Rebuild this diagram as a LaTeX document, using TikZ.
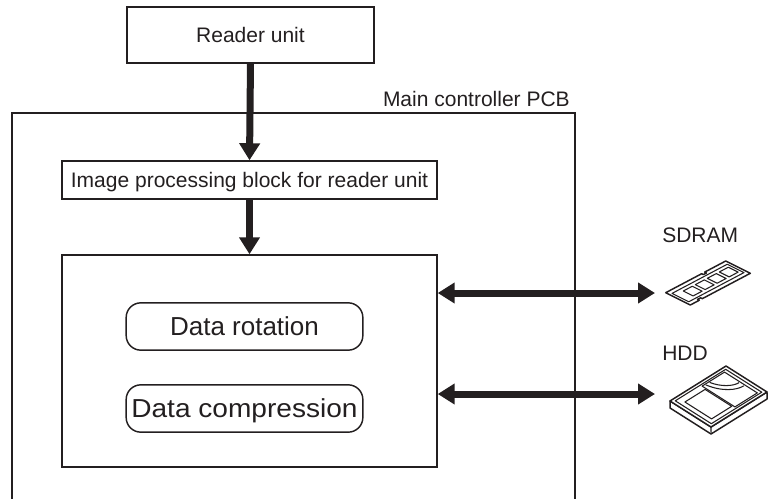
\documentclass[tikz,border=0pt]{standalone}
\usepackage{fontspec}
\setmainfont{Liberation Sans}
\usetikzlibrary{arrows.meta}

\definecolor{ink}{RGB}{35,31,32}

\begin{document}
\begin{tikzpicture}[x=0.75pt,y=0.75pt,yscale=-1,xscale=1,
    box/.style={draw=ink, line width=1.1pt, inner sep=0pt, text=ink},
    small/.style={font=\fontsize{15.75pt}{18pt}\selectfont, text height=11.3pt, text depth=0pt},
    big/.style={font=\fontsize{19.5pt}{22pt}\selectfont, text height=14pt, text depth=0pt},
    feed/.style={draw=ink, line width=5.25pt, -{Triangle[length=12.75pt,width=15pt]}},
    link/.style={draw=ink, line width=5.25pt, {Triangle[length=12.75pt,width=15pt]}-{Triangle[length=12.75pt,width=15pt]}},
    icon/.style={draw=ink, line width=0.8pt, line join=round, fill=white}]
    \useasboundingbox (0,0) rectangle (770,499);
    \clip (0,0) rectangle (770,499);

    %Shape: Rectangle (controller board, open at the bottom)
    \draw [draw=ink, line width=1.1pt] (12,505) -- (12,113) -- (575,113) -- (575,505) ;

    % Text Node
    \draw (250.5,35) node (reader) [box, small, minimum width=185.25pt, minimum height=42pt] {Reader unit};
    % Text Node
    \draw (570,107) node (board) [anchor=base east, inner sep=0pt, text=ink, font=\fontsize{15.75pt}{18pt}\selectfont] {Main controller PCB};
    % Text Node
    \draw (249.5,180) node (imgblock) [box, small, minimum width=281.25pt, minimum height=28.5pt] {Image processing block for reader unit};
    %Shape: Rectangle
    \draw (249.5,361) node (core) [box, minimum width=281.25pt, minimum height=159pt] {};
    % Text Node
    \draw (244.5,326.5) node (rot) [box, big, rounded corners=11pt, minimum width=177.5pt, minimum height=35.5pt] {Data rotation};
    % Text Node
    \draw (244.5,408.5) node (comp) [box, big, rounded corners=11pt, minimum width=177.5pt, minimum height=35.5pt] {\scalebox{1.08}[1]{Data compression}};
    % Text Node
    \draw (662,242) node (sdramlbl) [anchor=base west, inner sep=0pt, text=ink, font=\fontsize{15.75pt}{18pt}\selectfont] {SDRAM};
    % Text Node
    \draw (662,360) node (hddlbl) [anchor=base west, inner sep=0pt, text=ink, font=\fontsize{15.75pt}{18pt}\selectfont] {HDD};

    %Straight Lines
    \draw [feed] (reader.south) -- (imgblock.north) ;
    \draw [feed] (imgblock.south) -- (core.north) ;
    \coordinate (sdramport) at (655,293) ;
    \coordinate (hddport) at (655,394) ;
    \draw [link] (core.east |- sdramport) -- (sdramport) ;
    \draw [link] (core.east |- hddport) -- (hddport) ;

    %Shape: SDRAM module
    \begin{scope}[shift={(665.7,292.7)}, x={(45pt,-23.775pt)}, y={(18.45pt,9.225pt)}]
        \draw [icon, line width=1.1pt] (0,0) -- (0.6,0) -- (0.6,0.07) -- (0.65,0.07) -- (0.65,0) -- (1,0) -- (1,1) -- (0.2,1) -- (0.2,0.93) -- (0.15,0.93) -- (0.15,1) -- (0,1) -- cycle ;
        \draw [icon] (0.04,0.16) -- (0.96,0.16) -- (0.96,0.84) -- (0.04,0.84) -- cycle ;
        \foreach \u in {0.17,0.37,0.57,0.77}
            \draw [icon] (\u,0.3) -- (\u+0.15,0.3) -- (\u+0.15,0.7) -- (\u,0.7) -- cycle ;
    \end{scope}

    %Shape: HDD
    \begin{scope}[shift={(670,401)}, x={(42pt,-26.25pt)}, y={(30.75pt,19.5pt)}]
        \draw [icon, line width=1.1pt] (0,0) -- (-0.099,0.136) -- (-0.099,1.136) -- (0.901,1.136) -- (1,1) -- (0,1) -- cycle ;
        \draw [icon] (0,1) -- (-0.099,1.136) ;
        \draw [icon, line width=1.1pt] (0,0) -- (1,0) -- (1,1) -- (0,1) -- cycle ;
        \draw [icon] (0.05,0.06) -- (0.95,0.06) -- (0.95,0.94) -- (0.05,0.94) -- cycle ;
        \draw [icon] (0.12,0.2) -- (0.48,0.2) -- (0.48,0.85) -- (0.12,0.85) -- cycle ;
        \draw [icon] (0.5,0.1) -- (0.9,0.1) -- (0.9,0.9) -- (0.5,0.9) -- cycle ;
        \draw [icon, fill=none] (0.55,0.12) .. controls (0.6,0.45) and (0.75,0.6) .. (0.88,0.6) ;
        \draw [icon, fill=none] (0.62,0.12) .. controls (0.66,0.35) and (0.78,0.48) .. (0.88,0.48) ;
    \end{scope}
\end{tikzpicture}
\end{document}
